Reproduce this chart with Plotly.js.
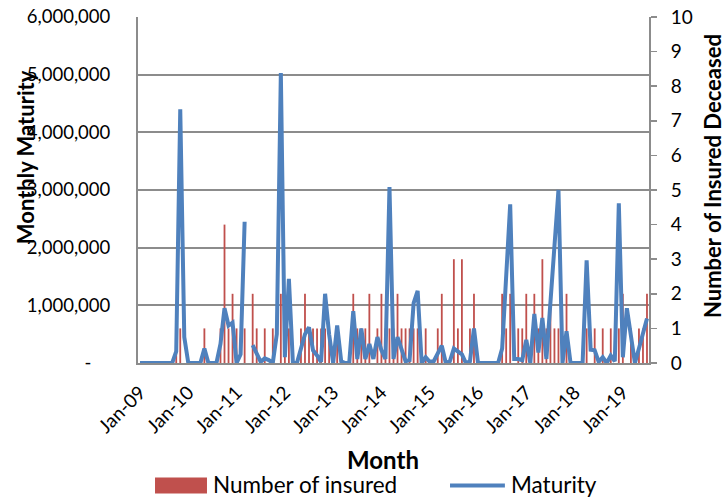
<!DOCTYPE html>
<html>
<head>
<meta charset="utf-8">
<script src="https://cdn.plot.ly/plotly-3.0.1.min.js"></script>
<style>
html,body{margin:0;padding:0;background:#fff;}
#chart{width:725px;height:498px;}
</style>
</head>
<body>
<div id="chart"></div>
<script>
// Category labels: monthly, Jan-09 .. Jul-19
var monthNames = ["Jan","Feb","Mar","Apr","May","Jun","Jul","Aug","Sep","Oct","Nov","Dec"];
var years = ["09","10","11","12","13","14","15","16","17","18","19"];
var months = [];
years.forEach(function(y){ monthNames.forEach(function(m){ months.push(m + "-" + y); }); });
months = months.slice(0, 127);

var tickLabels = ["Jan-09","Jan-10","Jan-11","Jan-12","Jan-13","Jan-14","Jan-15","Jan-16","Jan-17","Jan-18","Jan-19"];

// Monthly maturity (left axis)
var maturity = [
  0,0,0,0,0,0,0,0,0,200000,
  4400000,450000,0,0,0,0,250000,0,0,0,
  330000,950000,650000,700000,0,150000,2450000,null,310000,170000,
  20000,80000,50000,0,500000,5030000,100000,1460000,0,0,
  250000,500000,620000,220000,130000,20000,1200000,500000,0,650000,
  30000,0,0,900000,70000,600000,70000,330000,70000,450000,
  220000,70000,3050000,70000,450000,250000,30000,50000,1040000,1250000,
  0,100000,20000,30000,180000,300000,0,30000,250000,200000,
  150000,0,30000,600000,0,0,0,0,0,0,
  250000,1600000,2750000,70000,70000,50000,400000,0,850000,180000,
  780000,70000,1100000,2000000,3000000,0,550000,0,0,0,
  0,1780000,230000,220000,20000,100000,0,130000,30000,2770000,
  100000,950000,450000,0,250000,500000,770000
];

// Number of insured deceased (right axis)
var insured = [
  0,0,0,0,0,0,0,0,0,1,
  1,0,0,0,0,0,1,0,0,0,
  1,4,1,2,1,0,1,0,2,1,
  0,1,0,1,0,2,1,1,0,0,
  1,2,1,1,1,1,1,1,0,1,
  0,0,0,2,1,1,1,2,0,1,
  2,1,1,1,2,1,1,1,1,1,
  0,1,0,0,1,2,0,0,3,1,
  3,0,1,2,0,0,0,0,0,0,
  2,1,2,0,1,1,2,0,2,1,
  3,1,2,1,1,0,2,0,0,0,
  0,1,0,1,0,1,0,1,0,1,
  2,0,1,0,1,1,2
];

var leftTicks = [0,1000000,2000000,3000000,4000000,5000000,6000000];
var leftTickText = ["-\u00a0\u00a0\u00a0\u00a0","1,000,000","2,000,000","3,000,000","4,000,000","5,000,000","6,000,000"];

var RED = "#C0504D", BLUE = "#4F81BD", GRID = "#8c8c8c";
var FONT = "Lato, 'Open Sans', sans-serif";

var traces = [
  {
    type: "bar", name: "Number of insured", x: months, y: insured,
    yaxis: "y", marker: {color: RED}, width: 0.45, showlegend: false
  },
  {
    type: "scatter", mode: "lines", name: "Maturity", x: months, y: maturity,
    yaxis: "y2", line: {color: BLUE, width: 4}, connectgaps: false, showlegend: false
  }
];

var layout = {
  width: 725, height: 498,
  margin: {l: 138, r: 76, t: 17, b: 135},
  paper_bgcolor: "#fff", plot_bgcolor: "#fff",
  font: {family: FONT, color: "#000", size: 17},
  showlegend: false,
  xaxis: {
    type: "category", range: [-0.5, 126.5],
    tickmode: "array", tickvals: tickLabels, ticktext: tickLabels,
    tickangle: -45, ticks: "", showgrid: false,
    showline: true, linecolor: GRID, linewidth: 2,
    ticklabelstandoff: 9,
    tickfont: {size: 19, family: FONT}
  },
  yaxis: {
    side: "right", range: [0, 10], dtick: 1, tick0: 0,
    showgrid: false, zeroline: false,
    showline: true, linecolor: GRID, linewidth: 2,
    ticks: "outside", ticklen: 6, tickcolor: GRID, tickwidth: 1.5,
    ticklabelstandoff: 10,
    tickfont: {size: 19, family: FONT}
  },
  yaxis2: {
    overlaying: "y", side: "left", range: [0, 6000000],
    tickmode: "array", tickvals: leftTicks, ticktext: leftTickText,
    showgrid: true, gridcolor: GRID, gridwidth: 2, zeroline: false,
    showline: true, linecolor: GRID, linewidth: 2, ticks: "",
    ticklabelstandoff: 22,
    tickfont: {size: 18.5, family: FONT}
  },
  annotations: [
    {text: "<b>Monthly Maturity</b>", xref: "paper", yref: "paper", x: -0.221, y: 0.595,
     xanchor: "center", yanchor: "middle",
     textangle: -90, showarrow: false, font: {size: 22, family: FONT}},
    {text: "<b>Number of Insured Deceased</b>", xref: "paper", yref: "paper", x: 1.123, y: 0.54,
     xanchor: "center", yanchor: "middle",
     textangle: -90, showarrow: false, font: {size: 22, family: FONT}},
    {text: "<b>Month</b>", xref: "paper", yref: "paper", x: 0.479, y: -0.28,
     xanchor: "center", yanchor: "middle",
     showarrow: false, font: {size: 24, family: FONT}},
    {text: "Number of insured", xref: "paper", yref: "paper", x: 0.1429, y: -0.352,
     xanchor: "left", yanchor: "middle", showarrow: false, font: {size: 22.5, family: FONT}},
    {text: "Maturity", xref: "paper", yref: "paper", x: 0.726, y: -0.352,
     xanchor: "left", yanchor: "middle", showarrow: false, font: {size: 22.5, family: FONT}}
  ],
  shapes: [
    {type: "rect", xref: "paper", yref: "paper", x0: 0.0333, x1: 0.135, y0: -0.3775, y1: -0.331,
     fillcolor: RED, line: {width: 0}},
    {type: "line", xref: "paper", yref: "paper", x0: 0.6106, x1: 0.718, y0: -0.354, y1: -0.354,
     line: {color: BLUE, width: 4}}
  ]
};

Plotly.newPlot("chart", traces, layout, {displayModeBar: false, staticPlot: true});
</script>
</body>
</html>
